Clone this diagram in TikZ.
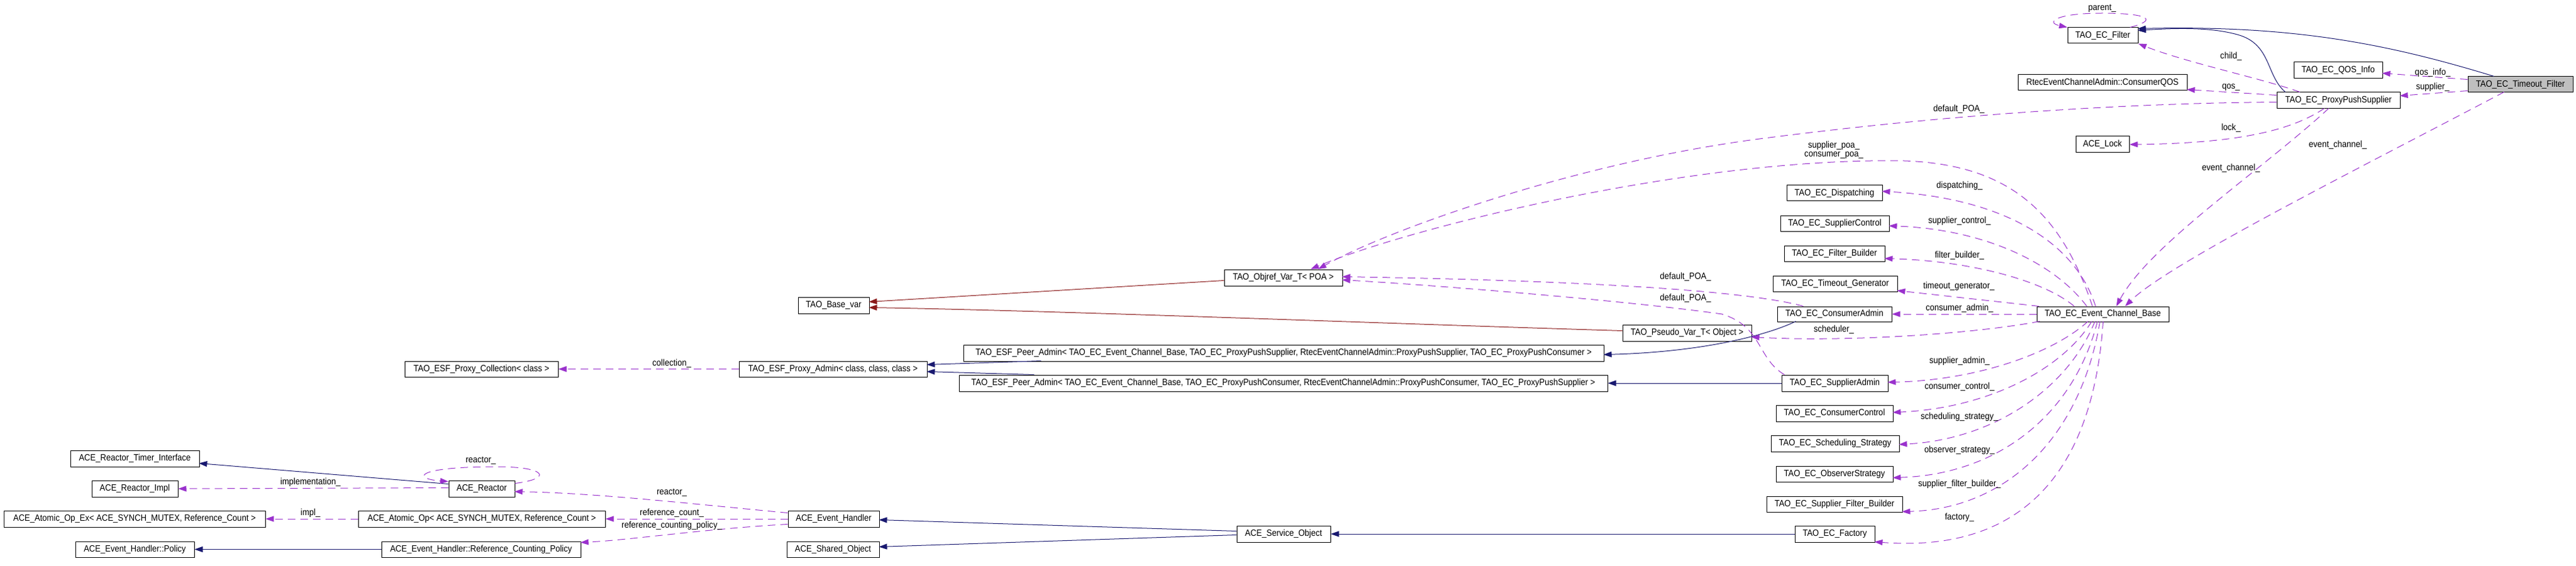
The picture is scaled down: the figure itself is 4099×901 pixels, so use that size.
\documentclass[tikz,border=0pt]{standalone}
\usepackage{fontspec}
\setmainfont[FakeStretch=0.9]{Liberation Sans}
\usetikzlibrary{arrows.meta,calc}
\definecolor{ibl}{HTML}{191970}
\definecolor{mpur}{HTML}{9A32CD}
\definecolor{dred}{HTML}{8B1A1A}
\definecolor{tfgray}{HTML}{BFBFBF}
\newcommand\lbl{\fontsize{14.5}{16}\selectfont}
\newcommand\mkbox[7][]{\node[cls,#1,minimum width={(#5-#3)*1pt},minimum height={(#6-#4)*1pt}] (#2) at ({(#3+#5)/2},{(#4+#6)/2}) {#7};}
\begin{document}
\begin{tikzpicture}[x=1pt,y=-1pt,
  cls/.style={draw=black,line width=1pt,inner sep=0pt,font=\lbl,fill=white},
  inh/.style={draw=ibl,line width=1pt,-{Triangle[length=13pt,width=9pt]}},
  priv/.style={draw=dred,line width=1pt,-{Triangle[length=13pt,width=9pt]}},
  mem/.style={draw=mpur,line width=1pt,dash pattern=on 12pt off 8pt,-{Triangle[length=13pt,width=9pt]}},
  lab/.style={font=\lbl,inner sep=0pt}]
\fill[white] (0,0) rectangle (4099,901);
\useasboundingbox (0,0) rectangle (4099,901);
% classes
\mkbox[fill=tfgray]{tf}{3927}{122}{4094}{147}{TAO\_EC\_Timeout\_Filter}
\mkbox{filt}{3290}{44}{3402}{69}{TAO\_EC\_Filter}
\mkbox{qosinfo}{3650}{99}{3791}{125}{TAO\_EC\_QOS\_Info}
\mkbox{pps}{3623}{147}{3819}{173}{TAO\_EC\_ProxyPushSupplier}
\mkbox{cqos}{3211}{119}{3480}{144}{RtecEventChannelAdmin::ConsumerQOS}
\mkbox{lock}{3303}{217}{3388}{243}{ACE\_Lock}
\mkbox{ecb}{3241}{488}{3451}{512}{TAO\_EC\_Event\_Channel\_Base}
\mkbox{disp}{2843}{295}{2995}{320}{TAO\_EC\_Dispatching}
\mkbox{supctl}{2833}{343}{3006}{368}{TAO\_EC\_SupplierControl}
\mkbox{fb}{2839}{391}{2999}{416}{TAO\_EC\_Filter\_Builder}
\mkbox{tg}{2821}{439}{3019}{464}{TAO\_EC\_Timeout\_Generator}
\mkbox{cadm}{2828}{488}{3010}{512}{TAO\_EC\_ConsumerAdmin}
\mkbox{sadm}{2835}{597}{3004}{623}{TAO\_EC\_SupplierAdmin}
\mkbox{cctl}{2826}{645}{3012}{671}{TAO\_EC\_ConsumerControl}
\mkbox{sched}{2818}{693}{3022}{719}{TAO\_EC\_Scheduling\_Strategy}
\mkbox{obs}{2826}{742}{3012}{767}{TAO\_EC\_ObserverStrategy}
\mkbox{sfb}{2811}{790}{3027}{815}{TAO\_EC\_Supplier\_Filter\_Builder}
\mkbox{fact}{2856}{837}{2983}{863}{TAO\_EC\_Factory}
\mkbox{objref}{1948}{429}{2136}{455}{TAO\_Objref\_Var\_T< POA >}
\mkbox{pseudo}{2582}{517}{2787}{543}{TAO\_Pseudo\_Var\_T< Object >}
\mkbox{basevar}{1270}{473}{1383}{499}{TAO\_Base\_var}
\mkbox{peers}{1533}{549}{2552}{575}{TAO\_ESF\_Peer\_Admin< TAO\_EC\_Event\_Channel\_Base, TAO\_EC\_ProxyPushSupplier, RtecEventChannelAdmin::ProxyPushSupplier, TAO\_EC\_ProxyPushConsumer >}
\mkbox{peerc}{1526}{597}{2558}{623}{TAO\_ESF\_Peer\_Admin< TAO\_EC\_Event\_Channel\_Base, TAO\_EC\_ProxyPushConsumer, RtecEventChannelAdmin::ProxyPushConsumer, TAO\_EC\_ProxyPushSupplier >}
\mkbox{padm}{1176}{575}{1475}{600}{TAO\_ESF\_Proxy\_Admin< class, class, class >}
\mkbox{pcoll}{644}{575}{888}{600}{TAO\_ESF\_Proxy\_Collection< class >}
\mkbox{svc}{1968}{837}{2117}{863}{ACE\_Service\_Object}
\mkbox{eh}{1254}{813}{1399}{839}{ACE\_Event\_Handler}
\mkbox{so}{1252}{862}{1399}{887}{ACE\_Shared\_Object}
\mkbox{reactor}{714}{765}{819}{791}{ACE\_Reactor}
\mkbox{rti}{112}{717}{317}{743}{ACE\_Reactor\_Timer\_Interface}
\mkbox{rimpl}{146}{765}{283}{791}{ACE\_Reactor\_Impl}
\mkbox{aopex}{6}{813}{422}{839}{ACE\_Atomic\_Op\_Ex< ACE\_SYNCH\_MUTEX, Reference\_Count >}
\mkbox{aop}{570}{813}{963}{839}{ACE\_Atomic\_Op< ACE\_SYNCH\_MUTEX, Reference\_Count >}
\mkbox{policy}{120}{862}{309}{887}{ACE\_Event\_Handler::Policy}
\mkbox{rcp}{607}{862}{924}{887}{ACE\_Event\_Handler::Reference\_Counting\_Policy}
% inheritance (public)
\draw[inh] ($(reactor.north west)+(0,6)$) -- ($(rti.north west)+(205,21)$);
\draw[inh] (rcp.west) -- (policy.east);
\draw[inh] ($(svc.north west)+(0,9)$) -- ($(eh.north west)+(145,15)$);
\draw[inh] ($(svc.north west)+(0,15)$) -- ($(so.north west)+(147,9)$);
\draw[inh] (fact.west) -- (svc.east);
\draw[inh] ($(peers.north west)+(124,26)$) -- ($(padm.north west)+(299,6)$);
\draw[inh] ($(peerc.north west)+(120,0)$) -- ($(padm.north west)+(299,17)$);
\draw[inh] ($(cadm.north west)+(30,24)$) .. controls (2820,530) and (2720,560) .. ($(peers.north west)+(1019,16)$);
\draw[inh] (sadm.west) -- (peerc.east);
\draw[inh] ($(tf.north west)+(42,0)$) .. controls (3800,70) and (3650,40) .. ($(filt.north west)+(112,2)$);
\draw[inh] ($(pps.north west)+(14,0)$) .. controls (3605,120) and (3615,70) .. (3560,55) .. controls (3520,44) and (3470,44) .. ($(filt.north west)+(112,5)$);
% inheritance (private)
\draw[priv] ($(objref.north west)+(0,18)$) -- ($(basevar.north west)+(113,8)$);
\draw[priv] ($(pseudo.north west)+(0,10)$) .. controls (2200,515) and (1700,495) .. ($(basevar.north west)+(113,17)$);
% members
\draw[mem] ($(reactor.north east)+(0,5)$) .. controls (880,762) and (870,743) .. (790,743) .. controls (660,743) and (655,762) .. ($(reactor.north west)+(0,2)$);
\draw[mem] ($(reactor.north west)+(0,12)$) -- (rimpl.east);
\draw[mem] (aop.west) -- (aopex.east);
\draw[mem] ($(eh.north west)+(0,4)$) .. controls (1100,802) and (950,785) .. ($(reactor.north west)+(105,18)$);
\draw[mem] (eh.west) -- (aop.east);
\draw[mem] ($(eh.north west)+(0,22)$) .. controls (1120,842) and (1000,860) .. ($(rcp.north west)+(317,2)$);
\draw[mem] (padm.west) -- (pcoll.east);
\draw[mem] ($(cadm.north west)+(42,0)$) .. controls (2800,468) and (2600,448) .. ($(objref.north west)+(188,12)$);
\draw[mem] ($(sadm.north west)+(5,0)$) .. controls (2795,570) and (2805,520) .. (2740,500) .. controls (2600,480) and (2300,455) .. ($(objref.north west)+(188,17)$);
\draw[mem] ($(pps.north west)+(0,16)$) .. controls (3300,165) and (3000,195) .. (2800,221) .. controls (2500,260) and (2200,370) .. ($(objref.north west)+(150,0)$);
\draw[mem] ($(ecb.north west)+(89,0)$) .. controls (3280,340) and (3200,262) .. (3030,256) .. controls (2700,250) and (2250,360) .. ($(objref.north west)+(138,0)$);
\draw[mem] ($(ecb.north west)+(5,24)$) .. controls (3150,530) and (2950,545) .. ($(pseudo.north west)+(205,20)$);
\draw[mem] ($(filt.north west)+(100,0)$) .. controls (3440,30) and (3410,21) .. (3345,21) .. controls (3270,21) and (3255,36) .. (filt.north west);
\draw[mem] ($(pps.north west)+(37,0)$) .. controls (3600,125) and (3480,100) .. (filt.south east);
\draw[mem] ($(pps.north west)+(0,5)$) -- ($(cqos.north west)+(269,24)$);
\draw[mem] ($(pps.north west)+(76,26)$) .. controls (3650,205) and (3570,228) .. (lock.east);
\draw[mem] ($(pps.north west)+(83,26)$) .. controls (3600,270) and (3420,390) .. ($(ecb.north west)+(127,0)$);
\draw[mem] ($(tf.north west)+(58,25)$) .. controls (3750,270) and (3450,420) .. ($(ecb.north west)+(141,0)$);
\draw[mem] ($(tf.north west)+(0,5)$) -- ($(qosinfo.north west)+(141,18)$);
\draw[mem] ($(tf.north west)+(0,23)$) -- ($(pps.north west)+(196,6)$);
\draw[mem] ($(ecb.north west)+(94,0)$) .. controls (3300,380) and (3180,315) .. ($(disp.north west)+(152,10)$);
\draw[mem] ($(ecb.north west)+(80,0)$) .. controls (3270,420) and (3160,365) .. ($(supctl.north west)+(173,17)$);
\draw[mem] ($(ecb.north west)+(60,0)$) .. controls (3250,445) and (3130,415) .. ($(fb.north west)+(160,21)$);
\draw[mem] ($(ecb.north west)+(4,0)$) -- ($(tg.north west)+(198,24)$);
\draw[mem] (ecb.west) -- (cadm.east);
\draw[mem] ($(ecb.north west)+(82,24)$) .. controls (3270,560) and (3150,605) .. ($(sadm.north west)+(169,12)$);
\draw[mem] ($(ecb.north west)+(88,24)$) .. controls (3280,590) and (3160,650) .. ($(cctl.north west)+(186,12)$);
\draw[mem] ($(ecb.north west)+(93,24)$) .. controls (3290,620) and (3170,700) .. ($(sched.north west)+(204,15)$);
\draw[mem] ($(ecb.north west)+(97,24)$) .. controls (3300,660) and (3180,755) .. ($(obs.north west)+(186,19)$);
\draw[mem] ($(ecb.north west)+(101,24)$) .. controls (3310,700) and (3190,810) .. ($(sfb.north west)+(216,25)$);
\draw[mem] ($(ecb.north west)+(106,24)$) .. controls (3330,760) and (3210,880) .. ($(fact.north west)+(127,26)$);
% labels
\node[lab] (lparent) at (3345,13) {parent\_};
\node[lab] (lchild) at (3550,90) {child\_};
\node[lab] (lqos) at (3550,139) {qos\_};
\node[lab] (ldpoa1) at (3117,174) {default\_POA\_};
\node[lab] (llock) at (3550,204) {lock\_};
\node[lab] (lec1) at (3550,268) {event\_channel\_};
\node[lab] (lec2) at (3720,231) {event\_channel\_};
\node[lab] (lqosinfo) at (3871,116) {qos\_info\_};
\node[lab] (lsupplier) at (3871,139) {supplier\_};
\node[lab] (lsupoa) at (2918,232) {supplier\_poa\_};
\node[lab] (lcopoa) at (2918,247) {consumer\_poa\_};
\node[lab] (ldisp) at (3118,296) {dispatching\_};
\node[lab] (lsupctl) at (3118,352) {supplier\_control\_};
\node[lab] (lfb) at (3118,407) {filter\_builder\_};
\node[lab] (ltg) at (3117,456) {timeout\_generator\_};
\node[lab] (lcadm) at (3118,491) {consumer\_admin\_};
\node[lab] (lsched1) at (2918,525) {scheduler\_};
\node[lab] (lsadm) at (3118,575) {supplier\_admin\_};
\node[lab] (lcctl) at (3118,616) {consumer\_control\_};
\node[lab] (lsched) at (3118,664) {scheduling\_strategy\_};
\node[lab] (lobs) at (3118,717) {observer\_strategy\_};
\node[lab] (lsfb) at (3118,771) {supplier\_filter\_builder\_};
\node[lab] (lfact) at (3118,824) {factory\_};
\node[lab] (ldpoa2) at (2682,441) {default\_POA\_};
\node[lab] (ldpoa3) at (2682,475) {default\_POA\_};
\node[lab] (lcoll) at (1069,579) {collection\_};
\node[lab] (lreact1) at (765,733) {reactor\_};
\node[lab] (limpl) at (494,768) {implementation\_};
\node[lab] (limpl2) at (494,817) {impl\_};
\node[lab] (lreact2) at (1069,784) {reactor\_};
\node[lab] (lrefc) at (1069,817) {reference\_count\_};
\node[lab] (lrefcp) at (1069,837) {reference\_counting\_policy\_};
\end{tikzpicture}
\end{document}
